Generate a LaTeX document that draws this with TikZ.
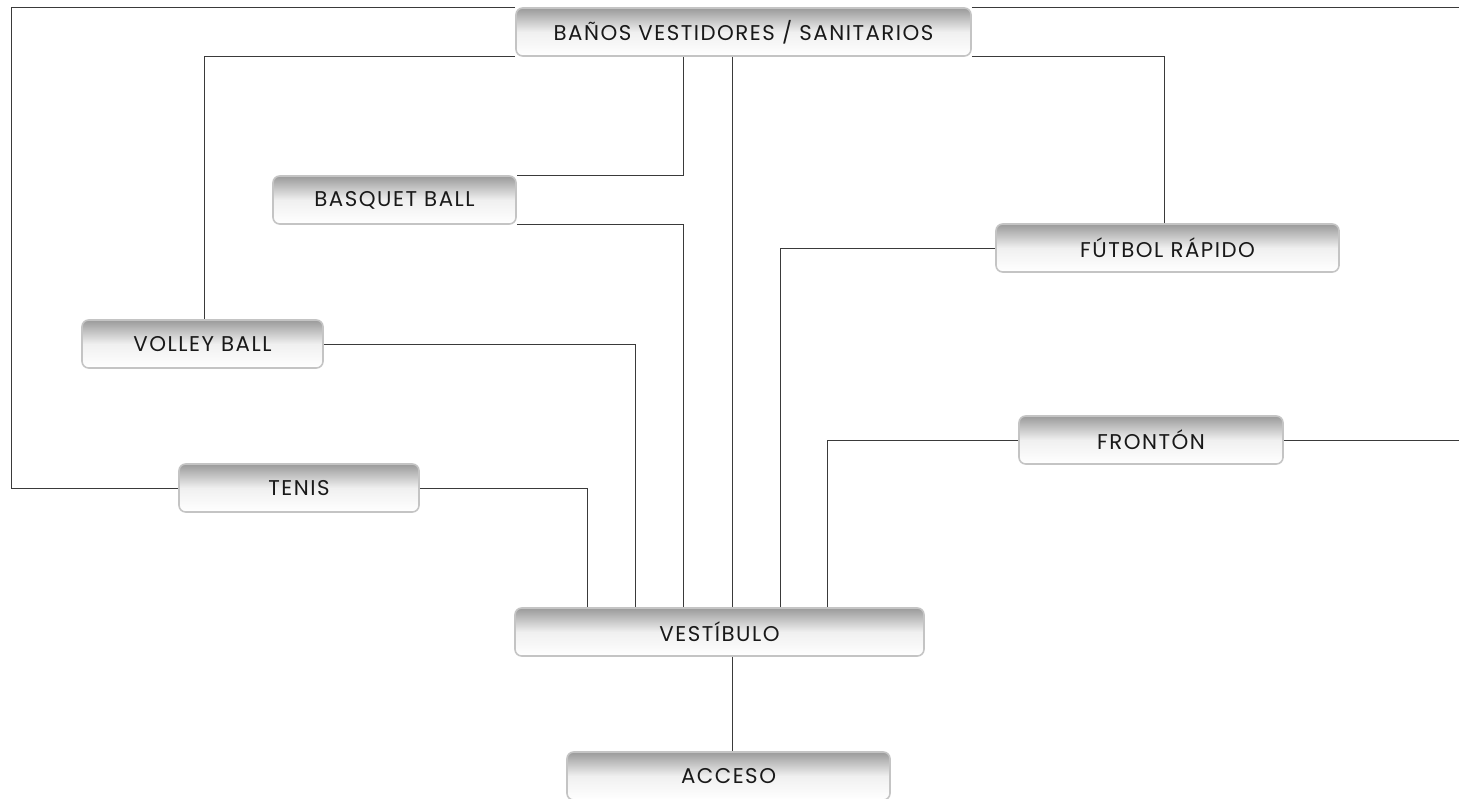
\documentclass[tikz,border=0pt]{standalone}
\usepackage{fontspec}
\setmainfont[LetterSpace=7]{Poppins}
\usetikzlibrary{calc}
\definecolor{boxtop}{HTML}{9A9A9A}
\definecolor{boxline}{HTML}{C4C4C4}
\definecolor{wire}{HTML}{3A3A3A}
\tikzset{
  zone/.style={draw=boxline, line width=1.2pt, rounded corners=5pt,
    top color=boxtop, bottom color=white, middle color=white!85!boxtop,
    minimum height=36pt, inner sep=0pt, anchor=center,
    font=\fontsize{16}{19}\selectfont, text=black!90},
  wireline/.style={draw=wire, line width=0.75pt}
}
\begin{document}
\begin{tikzpicture}[x=0.75pt, y=-0.75pt]
\useasboundingbox (0,0) rectangle (1459,799);
\node[zone, minimum width=341.25pt] (banos) at (743.5,32) {BAÑOS VESTIDORES / SANITARIOS};
\node[zone, minimum width=182.25pt] (basquet) at (394.5,200) {BASQUET BALL};
\node[zone, minimum width=257.25pt] (futbol) at (1167.5,248) {FÚTBOL RÁPIDO};
\node[zone, minimum width=180.75pt] (volley) at (202.5,344) {VOLLEY BALL};
\node[zone, minimum width=198pt] (fronton) at (1151,440) {FRONTÓN};
\node[zone, minimum width=180pt] (tenis) at (299,488) {TENIS};
\node[zone, minimum width=306.75pt] (vestibulo) at (719.5,632) {VESTÍBULO};
\node[zone, minimum width=242.25pt] (acceso) at (728.5,776) {ACCESO};
\coordinate (c587) at (587,0);
\coordinate (c635) at (635,0);
\coordinate (c683) at (683,0);
\coordinate (c732) at (732,0);
\coordinate (c780) at (780,0);
\coordinate (c827) at (827,0);
\coordinate (c204) at (204,0);
\coordinate (c1164) at (1164,0);
\draw[wireline] (banos.north west) -- ++(-504,0) |- (tenis.west);
\draw[wireline] (banos.north east) -- ++(490,0) |- (fronton.east);
\draw[wireline] (banos.south west) -| (volley.north -| c204);
\draw[wireline] (banos.south -| c683) |- (basquet.north east);
\draw[wireline] (banos.south -| c732) -- (vestibulo.north -| c732);
\draw[wireline] (banos.south east) -| (futbol.north -| c1164);
\draw[wireline] (basquet.south east) -| (vestibulo.north -| c683);
\draw[wireline] (futbol.west) -| (vestibulo.north -| c780);
\draw[wireline] (volley.east) -| (vestibulo.north -| c635);
\draw[wireline] (fronton.west) -| (vestibulo.north -| c827);
\draw[wireline] (tenis.east) -| (vestibulo.north -| c587);
\draw[wireline] (vestibulo.south -| c732) -- (acceso.north -| c732);
\end{tikzpicture}
\end{document}
